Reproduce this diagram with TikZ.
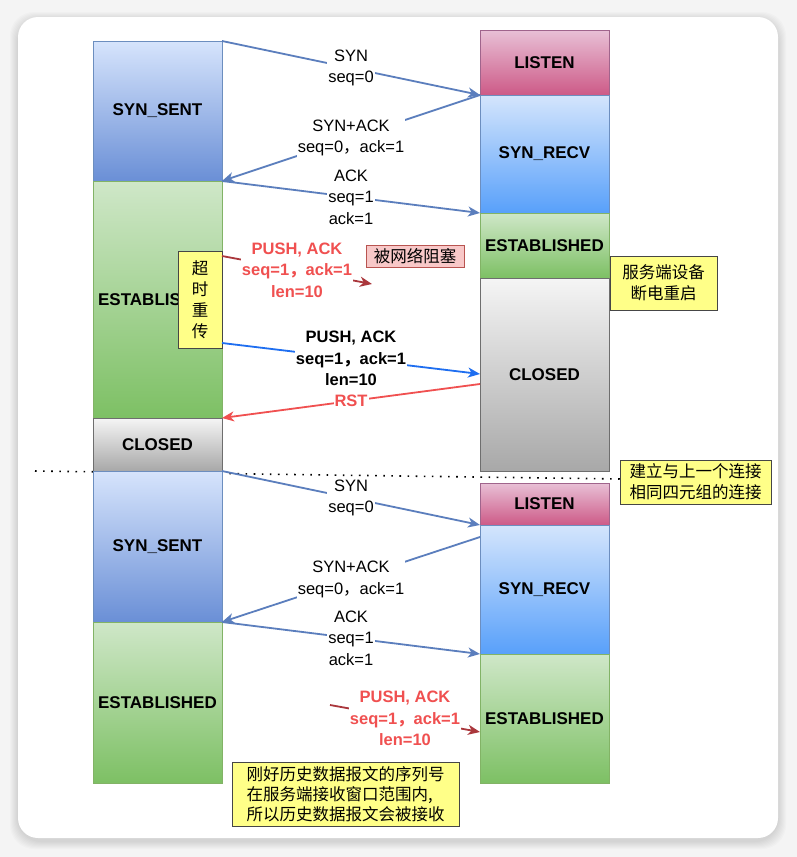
\documentclass[tikz,border=0pt]{standalone}
\usepackage{fontspec}
\setmainfont{Liberation Sans}
\newfontfamily\cjk{Noto Sans CJK SC}
\usetikzlibrary{positioning,arrows.meta,calc}
\definecolor{Bg}{RGB}{244,244,244}
\definecolor{BlueLine}{RGB}{108,142,191}
\definecolor{BlueTop}{RGB}{214,228,252}
\definecolor{BlueBot}{RGB}{106,143,214}
\definecolor{RecvTop}{RGB}{212,229,252}
\definecolor{RecvBot}{RGB}{88,160,250}
\definecolor{GreenLine}{RGB}{130,179,102}
\definecolor{GreenTop}{RGB}{207,231,200}
\definecolor{GreenBot}{RGB}{125,192,100}
\definecolor{GrayLine}{RGB}{110,110,110}
\definecolor{GrayTop}{RGB}{245,245,245}
\definecolor{GrayBot}{RGB}{168,168,168}
\definecolor{PinkLine}{RGB}{160,100,140}
\definecolor{PinkTop}{RGB}{232,192,214}
\definecolor{PinkBot}{RGB}{205,90,135}
\definecolor{Arrow}{RGB}{91,126,189}
\definecolor{Push}{RGB}{30,110,240}
\definecolor{Rst}{RGB}{240,80,80}
\definecolor{Lost}{RGB}{170,55,60}
\definecolor{Note}{RGB}{255,255,136}
\definecolor{NoteLine}{RGB}{70,70,70}
\definecolor{Block}{RGB}{248,200,200}
\definecolor{BlockLine}{RGB}{184,84,80}
\newcommand\fc{{\cjk ，}}

\begin{document}
\begin{tikzpicture}[x=1pt,y=-1pt,node distance=0pt,
 st/.style={draw,minimum width=129pt,inner sep=0pt,outer sep=0pt,line width=1pt,font=\fontsize{17}{20}\selectfont\bfseries},
 sent/.style={st,draw=BlueLine,top color=BlueTop,bottom color=BlueBot},
 recv/.style={st,draw=BlueLine,top color=RecvTop,bottom color=RecvBot},
 est/.style={st,draw=GreenLine,top color=GreenTop,bottom color=GreenBot},
 cls/.style={st,draw=GrayLine,top color=GrayTop,bottom color=GrayBot},
 lsn/.style={st,draw=PinkLine,top color=PinkTop,bottom color=PinkBot},
 note/.style={draw=NoteLine,fill=Note,line width=1pt,inner sep=0pt,outer sep=0pt,align=center,font=\cjk\fontsize{16.5}{21}\selectfont},
 a/.style={-{Stealth[length=12pt,width=10pt,inset=3.5pt]},line width=1.8pt,Arrow},
 lb/.style={midway,fill=white,inner sep=1pt,align=center,text=black,font=\fontsize{16.5}{21.5}\selectfont},
 bl/.style={lb,font=\fontsize{16.5}{21.5}\selectfont\bfseries},
 rb/.style={bl,text=Rst}]
\useasboundingbox (0,0) rectangle (797,857);
\fill[Bg] (0,0) rectangle (797,857);
\foreach \i in {1,...,8}
 \fill[black,opacity=0.014,rounded corners=24pt] (18-\i,17-\i+3) rectangle (778+\i,838+\i+3);
\fill[white,rounded corners=20pt] (18,17) rectangle (778,838);
\draw[line width=1.6pt,dash pattern=on 1.6pt off 6.5pt] (35,471) -- (622,479);

\node[sent,minimum height=140pt,anchor=north] (ss1) at (157.5,41) {SYN\_SENT};
\node[est,minimum height=237pt,below=of ss1] (es1) {ESTABLISHED};
\node[cls,minimum height=53pt,below=of es1] (cl1) {CLOSED};
\node[sent,minimum height=151pt,below=of cl1] (ss2) {SYN\_SENT};
\node[est,minimum height=161pt,below=of ss2] (es2) {ESTABLISHED};

\node[lsn,minimum height=65pt,anchor=north] (ls1) at (544.5,30) {LISTEN};
\node[recv,minimum height=118pt,below=of ls1] (rc1) {SYN\_RECV};
\node[est,minimum height=65pt,below=of rc1] (es3) {ESTABLISHED};
\node[cls,minimum height=193pt,below=of es3] (cl2) {CLOSED};
\node[lsn,minimum height=42pt,below=12pt of cl2] (ls2) {LISTEN};
\node[recv,minimum height=129pt,below=of ls2] (rc2) {SYN\_RECV};
\node[est,minimum height=129pt,below=of rc2] (es4) {ESTABLISHED};

\node[note,minimum width=44pt,minimum height=97pt,anchor=north east] (rto) at ($(es1.north east)+(0,70)$) {超\\时\\重\\传};
\node[note,minimum width=107pt,minimum height=54pt,anchor=north west] (pwr) at (610,256) {服务端设备\\断电重启};
\node[note,minimum width=151pt,minimum height=44pt,anchor=north west] (same) at (620,460) {建立与上一个连接\\相同四元组的连接};
\node[note,draw=BlockLine,fill=Block,minimum width=98pt,minimum height=22pt,anchor=north west] (blk) at (366,245) {被网络阻塞};
\node[note,align=left,font=\cjk\fontsize{16.5}{20}\selectfont,minimum width=227pt,minimum height=64pt,anchor=north west] (hist) at (232,762) {刚好历史数据报文的序列号\\在服务端接收窗口范围内,\\所以历史数据报文会被接收};

\draw[a] (ss1.north east) -- node[lb]{SYN\\seq=0} (ls1.south west);
\draw[a] (ls1.south west) -- node[lb]{SYN+ACK\\seq=0\fc ack=1} (ss1.south east);
\draw[a] (es1.north east) -- node[lb]{ACK\\seq=1\\ack=1} (es3.north west);
\coordinate (lost) at (372,284);
\draw[a,Lost] ($(rto.north east)+(0,5)$) -- node[rb]{PUSH, ACK\\seq=1\fc ack=1\\len=10} (lost);
\draw[a,Push] ($(rto.south east)+(0,-5)$) -- node[bl]{PUSH, ACK\\seq=1\fc ack=1\\len=10} ($(cl2.north west)+(0,96)$);
\draw[a,Rst] ($(cl2.north west)+(0,106)$) -- node[rb]{RST} (es1.south east);

\draw[a] (ss2.north east) -- node[lb]{SYN\\seq=0} (ls2.south west);
\draw[a] ($(rc2.north west)+(0,12)$) -- node[lb]{SYN+ACK\\seq=0\fc ack=1} (ss2.south east);
\draw[a] (es2.north east) -- node[lb]{ACK\\seq=1\\ack=1} (es4.north west);
\coordinate (old) at (330,705);
\draw[a,Lost] (old) -- node[rb]{PUSH, ACK\\seq=1\fc ack=1\\len=10} ($(es4.north west)+(0,78)$);
\end{tikzpicture}
\end{document}
